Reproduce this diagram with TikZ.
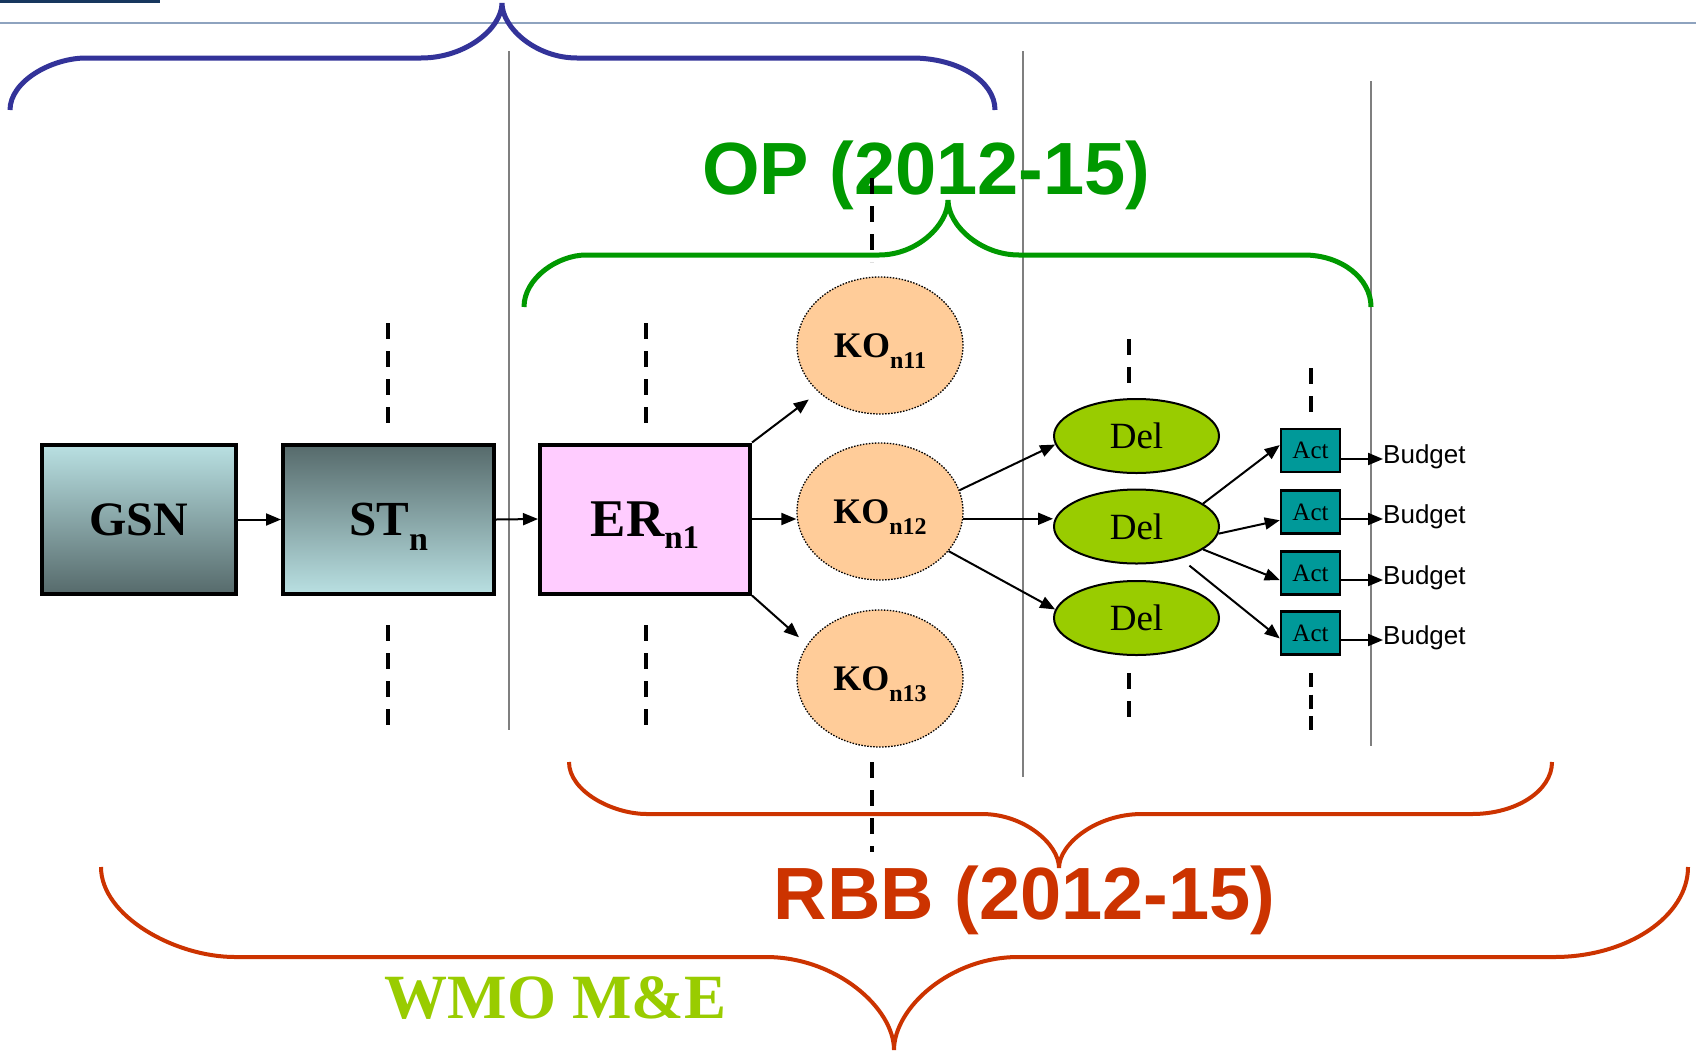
\documentclass[tikz,border=0pt]{standalone}
\usepackage{fontspec}
\setmainfont{Liberation Serif}
\newfontfamily\sansf{Liberation Sans}
\usetikzlibrary{shapes.geometric,arrows.meta}
\definecolor{navybar}{HTML}{17375E}
\definecolor{rulegrey}{HTML}{8EA3BF}
\definecolor{braceblue}{HTML}{333399}
\definecolor{opgreen}{HTML}{009900}
\definecolor{rbbred}{HTML}{CC3300}
\definecolor{wmogreen}{HTML}{99CC00}
\definecolor{kofill}{HTML}{FFCC99}
\definecolor{delfill}{HTML}{99CC00}
\definecolor{actfill}{HTML}{009999}
\definecolor{erfill}{HTML}{FFCCFF}
\definecolor{boxlight}{HTML}{B9E0E2}
\definecolor{boxdark}{HTML}{566A6B}
\definecolor{sepgrey}{HTML}{7F7F7F}
\begin{document}
\begin{tikzpicture}[x=1pt,y=-1pt,
  arr/.style={line width=2pt,-{Triangle[length=15pt,width=12pt]}},
  bigbox/.style={rectangle,draw=black,line width=4pt,inner sep=0pt,minimum height=149pt},
  kobox/.style={ellipse,draw=black,line width=1.3pt,dash pattern=on 1.5pt off 1.5pt,fill=kofill,
     minimum width=166pt,minimum height=137pt,inner sep=0pt,font=\bfseries\fontsize{36}{36}\selectfont},
  delbox/.style={ellipse,draw=black,line width=2pt,fill=delfill,minimum width=165pt,minimum height=74pt,
     inner sep=0pt,font=\fontsize{37}{37}\selectfont},
  actbox/.style={rectangle,draw=black,line width=2.5pt,fill=actfill,minimum width=59pt,minimum height=43pt,
     inner sep=0pt,font=\fontsize{25}{25}\selectfont},
  budget/.style={font=\sansf\fontsize{26}{26}\selectfont,inner sep=0pt,text height=13pt,text depth=5pt,anchor=west},
  dashln/.style={line width=4pt,dash pattern=on 16pt off 12pt},
  sepline/.style={line width=1.5pt,draw=sepgrey},
  bracethick/.style={line width=5pt},
  bracethin/.style={line width=4pt,draw=rbbred}]
\useasboundingbox (0,0) rectangle (1696,1050);
\fill[white] (0,0) rectangle (1696,1050);

% header
\fill[navybar] (0,0) rectangle (160,3);
\draw[line width=2.5pt,rulegrey] (0,23) -- (1696,23);

% separator lines
\draw[sepline] (509,51) -- (509,730);
\draw[sepline] (1023,51) -- (1023,777);
\draw[sepline] (1371,81) -- (1371,746);

% braces
\draw[bracethick,braceblue] (10,110) .. controls (10,81) and (52,58) .. (86,58) -- (421,58)
  .. controls (466,58) and (502,28) .. (502,3) .. controls (502,28) and (536,58) .. (577,58)
  -- (912,58) .. controls (958,58) and (995,81) .. (995,110);
\draw[bracethick,opgreen] (524,307) .. controls (524,278) and (558,255) .. (586,255) -- (879,255)
  .. controls (917,255) and (948,225) .. (948,200) .. controls (948,225) and (980,255) .. (1019,255)
  -- (1304,255) .. controls (1341,255) and (1371,278) .. (1371,307);
\draw[bracethin] (569,762) .. controls (569,791) and (612,814) .. (647,814) -- (982,814)
  .. controls (1024,814) and (1059,844) .. (1059,868) .. controls (1059,844) and (1096,814) .. (1142,814)
  -- (1472,814) .. controls (1516,814) and (1552,791) .. (1552,762);
\draw[bracethin] (101,867) .. controls (101,916) and (175,957) .. (235,957) -- (766,957)
  .. controls (836,957) and (894,1008) .. (894,1050) .. controls (894,1008) and (950,957) .. (1018,957)
  -- (1554,957) .. controls (1628,957) and (1688,916) .. (1688,867);

% titles
\node[font=\sansf\bfseries\fontsize{74}{74}\selectfont,text=opgreen,anchor=base] (op) at (926.5,194) {OP (2012-15)};
\node[font=\sansf\bfseries\fontsize{74}{74}\selectfont,text=rbbred,anchor=base] (rbb) at (1024.5,919) {RBB (2012-15)};
\node[font=\bfseries\fontsize{63}{63}\selectfont,text=wmogreen,anchor=base] (wmo) at (555.5,1018) {WMO M\&E};

% dashed markers
\draw[dashln] (388,323) -- (388,423);
\draw[dashln] (388,625) -- (388,725);
\draw[dashln] (646,323) -- (646,423);
\draw[dashln] (646,625) -- (646,725);
\draw[dashln] (872,178) -- (872,262);
\draw[dashln] (872,762) -- (872,852);
\draw[dashln] (1129,339) -- (1129,383);
\draw[dashln] (1129,673) -- (1129,717);
\draw[dashln] (1311,368) -- (1311,412);
\draw[dashln,dash pattern=on 14pt off 7.5pt] (1311,673) -- (1311,730);

% main boxes
\node[bigbox,minimum width=194pt,top color=boxlight,bottom color=boxdark] (gsn) at (138.5,519.5)
  {\bfseries\fontsize{48}{48}\selectfont GSN};
\node[bigbox,minimum width=211pt,top color=boxdark,bottom color=boxlight] (st) at (388.5,519.5)
  {\raisebox{-2pt}{\bfseries\fontsize{49}{49}\selectfont ST\raisebox{-15pt}[0pt][0pt]{\fontsize{34}{34}\selectfont n}}};
\node[bigbox,minimum width=210pt,fill=erfill] (er) at (645,519)
  {\bfseries\fontsize{53}{53}\selectfont ER\raisebox{-12pt}[0pt][0pt]{\fontsize{33}{33}\selectfont n1}};

% KO ellipses
\node[kobox] (ko11) at (880,345.5) {KO\raisebox{-11pt}[0pt][0pt]{\fontsize{24}{24}\selectfont n11}};
\node[kobox] (ko12) at (880,511.5) {KO\raisebox{-11pt}[0pt][0pt]{\fontsize{24}{24}\selectfont n12}};
\node[kobox] (ko13) at (880,678.5) {KO\raisebox{-11pt}[0pt][0pt]{\fontsize{24}{24}\selectfont n13}};

% Del ellipses
\node[delbox] (del1) at (1136.5,436) {Del};
\node[delbox] (del2) at (1136.5,526.5) {Del};
\node[delbox] (del3) at (1136.5,618) {Del};

% Act boxes
\node[actbox] (act1) at (1310.5,450.5) {Act};
\node[actbox] (act2) at (1310.5,512) {Act};
\node[actbox] (act3) at (1310.5,573) {Act};
\node[actbox] (act4) at (1310.5,633) {Act};

% Budget labels
\node[budget] (b1) at (1383,459) {Budget};
\node[budget] (b2) at (1383,519) {Budget};
\node[budget] (b3) at (1383,580) {Budget};
\node[budget] (b4) at (1383,640) {Budget};

% connectors
\draw[arr] (gsn.east) -- (st.west);
\draw[arr] (st.east) -- (er.west);
\draw[arr,shorten >=12pt] (er.north east) -- (ko11);
\draw[arr] (er.east) -- (er.east -| ko12.west);
\draw[arr,shorten >=11pt] (er.south east) -- (ko13.155);
\draw[arr] (ko12.15) -- (del1.186);
\draw[arr] (ko12.-5) -- (ko12.-5 -| del2.west);
\draw[arr] (ko12.-30) -- (del3.174);
\draw[arr] (del2.19) -- (act1.170);
\draw[arr] (del2.-5) -- (act2.195);
\draw[arr] (del2.-19) -- (act3.193);
\draw[arr,shorten <=11pt] (del2.-36) -- (act4.190);
\draw[arr] (act1.east |- b1.west) -- (b1.west);
\draw[arr] (act2.east |- b2.west) -- (b2.west);
\draw[arr] (act3.east |- b3.west) -- (b3.west);
\draw[arr] (act4.east |- b4.west) -- (b4.west);
\end{tikzpicture}
\end{document}
